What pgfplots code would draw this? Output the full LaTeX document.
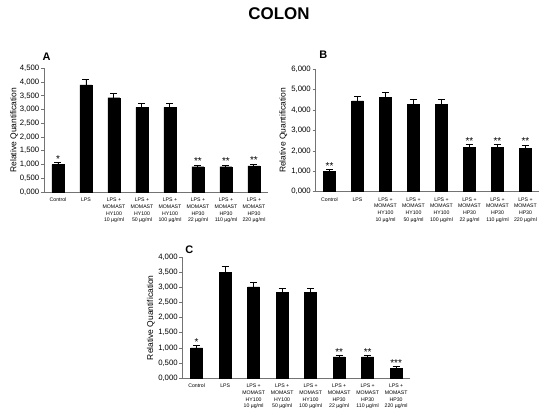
\documentclass[border=0pt]{standalone}
\usepackage{pgfplots}
\pgfplotsset{compat=1.18}
\usepackage{pgfplotstable}
\usepackage{fontspec}
\setmainfont{Liberation Sans}
\setsansfont{Liberation Sans}

\pgfplotstableread{
x y e t s
0 1.00 0.06 1.06 *
1 3.90 0.19 4.09 {}
2 3.43 0.16 3.59 {}
3 3.08 0.15 3.23 {}
4 3.08 0.15 3.23 {}
5 0.92 0.04 0.96 **
6 0.92 0.04 0.96 **
7 0.95 0.05 1.00 **
}\dataA

\pgfplotstableread{
x y e t s
0 1.00 0.07 1.07 **
1 4.45 0.22 4.67 {}
2 4.64 0.22 4.86 {}
3 4.28 0.22 4.50 {}
4 4.28 0.22 4.50 {}
5 2.16 0.14 2.30 **
6 2.16 0.14 2.30 **
7 2.12 0.14 2.26 **
}\dataB

\pgfplotstableread{
x y e t s
0 1.00 0.07 1.07 *
1 3.50 0.18 3.68 {}
2 3.02 0.16 3.18 {}
3 2.84 0.14 2.98 {}
4 2.84 0.14 2.98 {}
5 0.70 0.03 0.73 **
6 0.70 0.03 0.73 **
7 0.33 0.035 0.365 ***
}\dataC

\pgfplotsset{
  panel/.style={
    scale only axis,
    axis x line*=bottom, axis y line*=left,
    axis line style={draw=black!55, line width=0.6pt},
    xmin=-0.5, xmax=7.5, ymin=0,
    xtick={0,...,7},
    xticklabels={Control,LPS,{LPS +\\MOMAST\\HY100\\10 µg/ml},{LPS +\\MOMAST\\HY100\\50 µg/ml},{LPS +\\MOMAST\\HY100\\100 µg/ml},{LPS +\\MOMAST\\HP30\\22 µg/ml},{LPS +\\MOMAST\\HP30\\110 µg/ml},{LPS +\\MOMAST\\HP30\\220 µg/ml}},
    x tick label style={font=\fontsize{5.2}{6.9}\selectfont, align=center, anchor=north, inner sep=1pt, yshift=-1.5bp},
    major x tick style={draw=none},
    tick align=outside,
    major tick length=3bp,
    ytick style={draw=black!55, line width=0.6pt},
    y tick label style={font=\fontsize{7.8}{8.5}\selectfont, inner sep=1.5pt},
    yticklabel style={/pgf/number format/.cd, fixed, fixed zerofill, precision=3, use comma, assume math mode=true},
    ylabel={Relative Quantification},
    ylabel style={font=\fontsize{8.5}{10}\selectfont, anchor=center},
    clip=false,
  },
  bars/.style={ybar, bar width=12bp, bar shift=0pt, fill=black, draw=black,
    error bars/.cd, y dir=plus, y explicit,
    error bar style={line width=1pt, black},
    error mark options={rotate=90, mark size=3.5bp, line width=1pt, black}},
  stars/.style={draw=none, mark=none, nodes near coords, point meta=explicit symbolic,
    every node near coord/.style={font=\fontsize{10}{10}\selectfont, anchor=south, inner sep=0pt, yshift=0.5bp}},
}

\begin{document}
\begin{tikzpicture}
\path[use as bounding box] (0,0) rectangle (550bp,416bp);
\node[font=\fontsize{17}{20}\selectfont\bfseries] at (279bp,402.7bp) {COLON};

\begin{axis}[panel, at={(44bp,224bp)}, anchor=south west, width=224bp, height=123.7bp,
  ymax=4.5, ytick={0,0.5,...,4.5},
  ylabel style={at={(axis description cs:-0.134,0.5)}}]
\addplot[bars] table[x=x, y=y, y error=e] {\dataA};
\addplot[stars] table[x=x, y=t, meta=s] {\dataA};
\end{axis}
\node[font=\fontsize{11}{12}\selectfont\bfseries] at (46.7bp,359.3bp) {A};

\begin{axis}[panel, at={(315.5bp,224.3bp)}, anchor=south west, width=224bp, height=122.4bp,
  ymax=6, ytick={0,1,...,6},
  ylabel style={at={(axis description cs:-0.144,0.5)}}]
\addplot[bars] table[x=x, y=y, y error=e] {\dataB};
\addplot[stars] table[x=x, y=t, meta=s] {\dataB};
\end{axis}
\node[font=\fontsize{11}{12}\selectfont\bfseries] at (323.3bp,361bp) {B};

\begin{axis}[panel, at={(182.4bp,38bp)}, anchor=south west, width=228bp, height=120.7bp,
  ymax=4, ytick={0,0.5,...,4},
  ylabel style={at={(axis description cs:-0.138,0.5)}}]
\addplot[bars] table[x=x, y=y, y error=e] {\dataC};
\addplot[stars] table[x=x, y=t, meta=s] {\dataC};
\end{axis}
\node[font=\fontsize{11}{12}\selectfont\bfseries] at (189.3bp,166.7bp) {C};
\end{tikzpicture}
\end{document}
